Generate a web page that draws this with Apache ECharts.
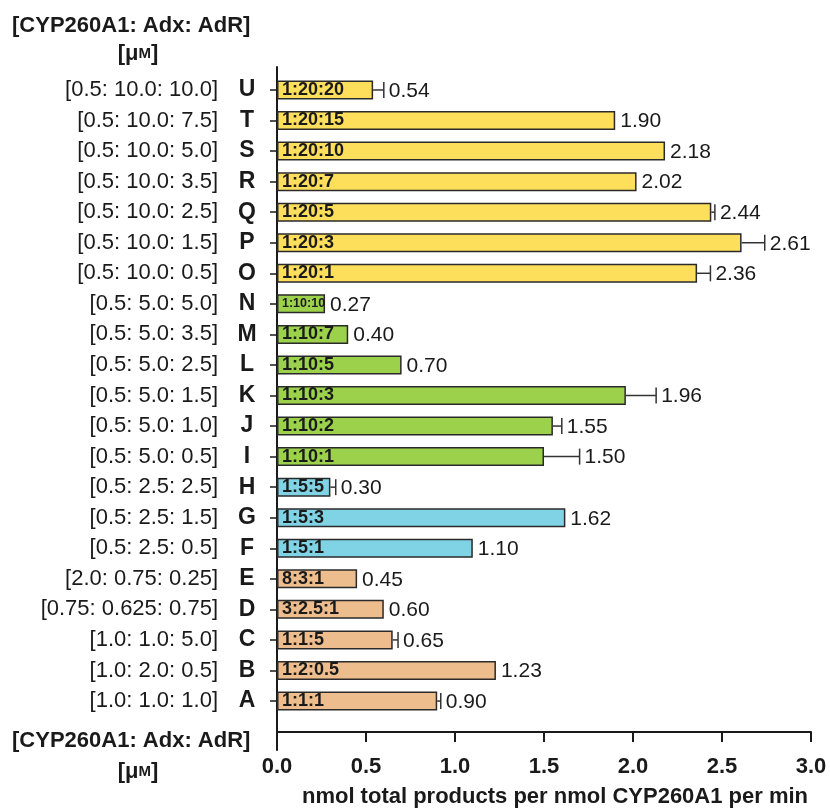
<!DOCTYPE html>
<html><head><meta charset="utf-8">
<script src="https://cdn.jsdelivr.net/npm/echarts@6/dist/echarts.min.js"></script>
<style>html,body{margin:0;padding:0;background:#fff}#c{width:830px;height:809px}</style>
</head><body><div id="c"></div>
<script>
// ---- data (bottom to top) ----
const letters = ['A','B','C','D','E','F','G','H','I','J','K','L','M','N','O','P','Q','R','S','T','U'];
const concs = ['[1.0: 1.0: 1.0]','[1.0: 2.0: 0.5]','[1.0: 1.0: 5.0]','[0.75: 0.625: 0.75]','[2.0: 0.75: 0.25]',
  '[0.5: 2.5: 0.5]','[0.5: 2.5: 1.5]','[0.5: 2.5: 2.5]',
  '[0.5: 5.0: 0.5]','[0.5: 5.0: 1.0]','[0.5: 5.0: 1.5]','[0.5: 5.0: 2.5]','[0.5: 5.0: 3.5]','[0.5: 5.0: 5.0]',
  '[0.5: 10.0: 0.5]','[0.5: 10.0: 1.5]','[0.5: 10.0: 2.5]','[0.5: 10.0: 3.5]','[0.5: 10.0: 5.0]','[0.5: 10.0: 7.5]','[0.5: 10.0: 10.0]'];
const ratios = ['1:1:1','1:2:0.5','1:1:5','3:2.5:1','8:3:1','1:5:1','1:5:3','1:5:5',
  '1:10:1','1:10:2','1:10:3','1:10:5','1:10:7','1:10:10',
  '1:20:1','1:20:3','1:20:5','1:20:7','1:20:10','1:20:15','1:20:20'];
const values = [0.90,1.23,0.65,0.60,0.45,1.10,1.62,0.30,1.50,1.55,1.96,0.70,0.40,0.27,2.36,2.61,2.44,2.02,2.18,1.90,0.54];
const errors = [0.02,0,0.03,0,0,0,0,0.03,0.20,0.05,0.17,0,0,0,0.075,0.13,0.02,0,0,0,0.06];
const groups = ['tan','tan','tan','tan','tan','blue','blue','blue','green','green','green','green','green','green',
  'yellow','yellow','yellow','yellow','yellow','yellow','yellow'];
const xTicks = {min:0, max:3, interval:0.5};

// ---- styles ----
const FONT = '"Liberation Sans", Arial, Helvetica, sans-serif';
const INK = '#1a1a1a';
const groupColors = {tan:'#EDBD8D', blue:'#80D3E5', green:'#9CD24B', yellow:'#FEDF5C'};

const chart = echarts.init(document.getElementById('c'));

const barData = values.map((v,i)=>{
  const item = {value:v, itemStyle:{color:groupColors[groups[i]]}};
  // shrink the inner label if it would not fit in the bar
  const estW = ratios[i].length * 0.5 * 18;
  if (estW > v * 178) item.label = {fontSize:12.5};
  return item;
});

const option = {
  animation:false,
  backgroundColor:'#fff',
  textStyle:{fontFamily:FONT},
  grid:[
    {left:277,right:19,top:67,bottom:59,outerBoundsMode:'none',containLabel:false},
    {left:277,right:19,top:74.7,bottom:92.7,outerBoundsMode:'none',containLabel:false}
  ],
  xAxis:[
    {gridIndex:0,type:'value',min:xTicks.min,max:xTicks.max,show:false},
    {gridIndex:1,type:'value',min:xTicks.min,max:xTicks.max,interval:xTicks.interval,position:'bottom',offset:15.7,
     axisLine:{show:true,onZero:false,lineStyle:{color:INK,width:2}},
     axisTick:{show:true,length:10,lineStyle:{color:INK,width:2}},
     axisLabel:{formatter:v=>v.toFixed(1),fontSize:22,fontWeight:'bold',color:INK,margin:24,fontFamily:FONT},
     splitLine:{show:false},
     name:'nmol total products per nmol CYP260A1 per min',nameLocation:'middle',nameGap:54,
     nameTextStyle:{fontSize:22,fontWeight:'bold',color:INK,fontFamily:FONT,padding:[0,0,0,22]}}
  ],
  yAxis:[
    {gridIndex:0,type:'value',min:0,max:1,
     axisLine:{show:true,lineStyle:{color:INK,width:2}},axisTick:{show:false},axisLabel:{show:false},splitLine:{show:false}},
    {gridIndex:1,type:'category',data:letters,
     axisLine:{show:false},
     axisTick:{show:true,alignWithLabel:true,length:7,lineStyle:{color:INK,width:1.5}},
     axisLabel:{margin:17,formatter:(v,i)=>`{c|${concs[i]}}{l|${v}}`,
       rich:{
         c:{fontSize:22,color:INK,fontFamily:FONT,padding:[0,16,0,0]},
         l:{fontSize:23,fontWeight:'bold',color:INK,fontFamily:FONT,width:26,align:'center'}
       }}}
  ],
  series:[
    {type:'bar',xAxisIndex:1,yAxisIndex:1,data:barData,barWidth:19,
     itemStyle:{borderColor:'#2a2a2a',borderWidth:1.5},
     label:{show:true,position:'insideLeft',distance:5,formatter:p=>ratios[p.dataIndex],
       fontSize:18,fontWeight:'bold',color:INK,fontFamily:FONT},
     z:2},
    {type:'custom',xAxisIndex:1,yAxisIndex:1,coordinateSystem:'cartesian2d',
     data:values.map((v,i)=>[v,i,errors[i]]),
     encode:{x:0,y:1},
     z:3,
     renderItem:(params,api)=>{
       const v = api.value(0), idx = api.value(1), e = api.value(2);
       const a = api.coord([v, idx]);
       const b = api.coord([v + e, idx]);
       const ch = 16;
       const children = [];
       if (e > 0) {
         children.push({type:'line',shape:{x1:a[0],y1:a[1],x2:b[0],y2:b[1]},style:{stroke:'#333',lineWidth:1.5}});
         children.push({type:'line',shape:{x1:b[0],y1:b[1]-ch/2,x2:b[0],y2:b[1]+ch/2},style:{stroke:'#333',lineWidth:1.5}});
       }
       children.push({type:'text',x:b[0]+5,y:b[1]+1,style:{text:v.toFixed(2),fill:INK,font:`21px ${FONT}`,align:'left',verticalAlign:'middle'}});
       return {type:'group',children};
     }}
  ],
  graphic:[
    {type:'text',x:12,y:26,style:{text:'[CYP260A1: Adx: AdR]',font:`bold 22px ${FONT}`,fill:INK,align:'left',verticalAlign:'middle'}},
    {type:'text',x:138,y:54,style:{text:'{b|[μ}{m|M}{b|]}',align:'center',verticalAlign:'middle',
      rich:{b:{font:`bold 22px ${FONT}`,fill:INK},m:{font:`bold 15px ${FONT}`,fill:INK}}}},
    {type:'text',x:12,y:741,style:{text:'[CYP260A1: Adx: AdR]',font:`bold 22px ${FONT}`,fill:INK,align:'left',verticalAlign:'middle'}},
    {type:'text',x:138,y:772,style:{text:'{b|[μ}{m|M}{b|]}',align:'center',verticalAlign:'middle',
      rich:{b:{font:`bold 22px ${FONT}`,fill:INK},m:{font:`bold 15px ${FONT}`,fill:INK}}}}
  ]
};
chart.setOption(option);
</script>
</body></html>
